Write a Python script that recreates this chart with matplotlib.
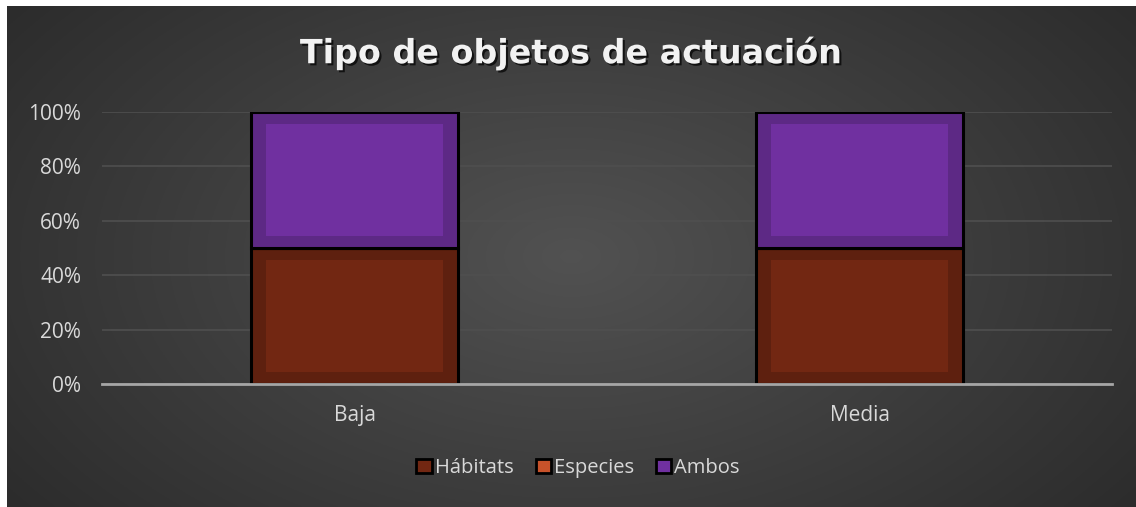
import numpy as np
import matplotlib
matplotlib.use('Agg')
import matplotlib.pyplot as plt
import matplotlib.patheffects as pe
from matplotlib.patches import Patch

# data (share of each category)
categories = ['Baja', 'Media']
habitats = [0.5, 0.5]
especies = [0.0, 0.0]
ambos = [0.5, 0.5]
series_names = ['Hábitats', 'Especies', 'Ambos']
yticks = [0, 0.2, 0.4, 0.6, 0.8, 1.0]

plt.rcParams['font.family'] = ['Open Sans', 'DejaVu Sans']

fig = plt.figure(figsize=(11.36, 5.07), dpi=100)
fig.patch.set_facecolor('white')

# radial gradient background
bg = fig.add_axes([7 / 1136, 0, 1 - 7 / 1136, 1 - 6 / 507], zorder=0)
xx, yy = np.meshgrid(np.linspace(-1, 1, 600), np.linspace(-1, 1, 300))
r = np.sqrt((xx * 0.95) ** 2 + (yy * 0.7) ** 2)
shade = 0.32 - 0.15 * np.clip(r, 0, 1.2) / 1.2
bg.imshow(np.dstack([shade] * 3), aspect='auto', extent=[0, 1, 0, 1])
bg.set_axis_off()

ax = fig.add_axes([102 / 1136, 123 / 507, 1010 / 1136, 272 / 507], zorder=1)
ax.set_facecolor('none')

x = np.arange(len(categories))
w = 0.408
outer = {'Hábitats': '#5e200f', 'Especies': '#a8441f', 'Ambos': '#5d2985'}
inner = {'Hábitats': '#722712', 'Especies': '#c8522a', 'Ambos': '#7030a0'}

bottom = np.zeros(len(categories))
for name, vals in zip(series_names, [habitats, especies, ambos]):
    vals = np.array(vals)
    ax.bar(x, vals, w, bottom=bottom, color=outer[name], edgecolor='black',
           linewidth=2.2, zorder=3)
    # lighter inner panel to mimic the bevel look
    mask = vals > 0
    iw = w * 0.855
    ih = np.where(mask, vals - 0.088, 0)
    ax.bar(x[mask], ih[mask], iw, bottom=bottom[mask] + 0.044,
           color=inner[name], linewidth=0, zorder=4)
    bottom = bottom + vals

ax.set_xlim(-0.5, len(categories) - 0.5)
ax.set_ylim(0, 1)
ax.set_yticks(yticks)
ax.set_yticklabels([f'{int(t * 100)}%' for t in yticks])
ax.set_xticks(x)
ax.set_xticklabels(categories)
ax.tick_params(length=0, colors='#d9d9d9', labelsize=15)
ax.tick_params(axis='y', pad=15)
ax.tick_params(axis='x', pad=15)
for s in ['top', 'right', 'left']:
    ax.spines[s].set_visible(False)
ax.spines['bottom'].set_color('#a6a6a6')
ax.spines['bottom'].set_linewidth(2)
ax.spines['bottom'].set_zorder(5)
ax.yaxis.grid(True, color='#4f4f4f', linewidth=1.2, zorder=1)
ax.set_axisbelow(True)

fig.text(571 / 1136, 1 - 53 / 507, 'Tipo de objetos de actuación',
         ha='center', va='center', fontsize=24, fontweight='bold',
         color='#f2f2f2', family=['DejaVu Sans'],
         path_effects=[pe.withSimplePatchShadow(offset=(1.5, -1.5),
                                                shadow_rgbFace='black',
                                                alpha=0.7)])

handles = [Patch(facecolor=inner[n], edgecolor='black', linewidth=2) for n in series_names]
leg = fig.legend(handles, series_names, loc='center', ncol=3,
                 bbox_to_anchor=(578 / 1136, 1 - 468 / 507), frameon=False,
                 fontsize=14.5, handlelength=0.75, handleheight=0.75,
                 handletextpad=0.15, columnspacing=1.1)
for t in leg.get_texts():
    t.set_color('#d9d9d9')

fig.savefig('out.png', dpi=100)
